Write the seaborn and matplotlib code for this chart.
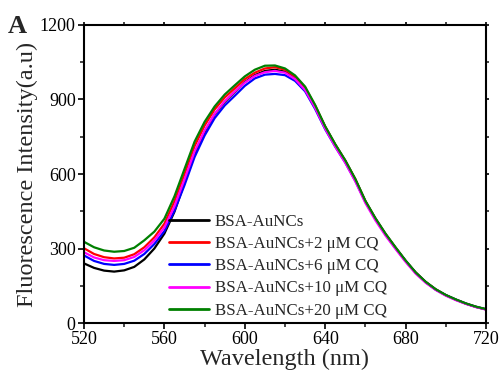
import matplotlib
matplotlib.use("Agg")
import matplotlib.pyplot as plt
import seaborn as sns
import pandas as pd
import numpy as np
from matplotlib.ticker import MultipleLocator

wavelength = list(range(520, 721, 5))

black = [240, 222, 211, 207, 212, 226, 256, 300, 360, 448, 565, 680, 770, 840, 890, 930, 970, 998, 1015, 1020,
         1012, 988, 945, 873, 790, 718, 653, 578, 490, 420, 358, 303, 250, 203, 165, 135, 112, 94, 78, 65, 55]
red = [301, 278, 265, 260, 263, 277, 305, 345, 400, 490, 600, 712, 795, 860, 908, 945, 982, 1008, 1025, 1030,
       1020, 992, 948, 875, 790, 718, 653, 578, 490, 420, 358, 303, 250, 203, 165, 135, 112, 94, 78, 65, 55]
blue = [272, 250, 238, 234, 238, 251, 278, 318, 370, 452, 555, 668, 755, 825, 876, 915, 955, 985, 1000, 1003,
        998, 975, 933, 862, 780, 710, 646, 572, 487, 418, 356, 301, 250, 202, 164, 134, 112, 94, 78, 65, 55]
magenta = [285, 264, 253, 250, 253, 266, 293, 332, 385, 470, 578, 690, 775, 842, 893, 932, 968, 995, 1010, 1015,
           1008, 982, 938, 866, 782, 710, 645, 570, 483, 413, 352, 298, 246, 199, 162, 133, 110, 92, 77, 64, 54]
green = [327, 305, 292, 287, 290, 303, 333, 368, 420, 510, 620, 730, 810, 872, 920, 957, 993, 1020, 1036, 1037,
         1025, 997, 952, 878, 792, 720, 655, 580, 492, 422, 360, 305, 252, 204, 166, 136, 113, 95, 79, 66, 56]

labels = ["BSA-AuNCs", "BSA-AuNCs+2 μM CQ", "BSA-AuNCs+6 μM CQ",
          "BSA-AuNCs+10 μM CQ", "BSA-AuNCs+20 μM CQ"]
colors = ["#000000", "#ff0000", "#0000ff", "#ff00ff", "#008000"]
series = [black, red, blue, magenta, green]

rows = []
for lab, vals in zip(labels, series):
    for w, v in zip(wavelength, vals):
        rows.append({"Wavelength": w, "Intensity": v, "Sample": lab})
df = pd.DataFrame(rows)

sns.set_style("ticks")
plt.rcParams['font.family'] = ['Liberation Serif', 'DejaVu Serif']

fig = plt.figure(figsize=(5.0, 3.73), dpi=100)
ax = fig.add_axes([0.168, 0.134, 0.804, 0.799])

sns.lineplot(data=df, x="Wavelength", y="Intensity", hue="Sample", hue_order=labels,
             palette=dict(zip(labels, colors)), linewidth=1.6, ax=ax, legend=True)

ax.set_xlim(520, 720)
ax.set_ylim(0, 1200)
ax.xaxis.set_major_locator(MultipleLocator(40))
ax.xaxis.set_minor_locator(MultipleLocator(20))
ax.yaxis.set_major_locator(MultipleLocator(300))
ax.yaxis.set_minor_locator(MultipleLocator(150))

for s in ax.spines.values():
    s.set_visible(True)
    s.set_linewidth(1.5)
    s.set_color("black")

ax.tick_params(axis='both', which='major', direction='out', length=4, width=1.2,
               labelsize=13, colors='black', pad=2)
ax.tick_params(axis='both', which='minor', direction='out', length=3, width=1.2)
ax.tick_params(top=True, right=True, which='both')
for t in ax.xaxis.get_ticklines(minor=False)[1::2] + ax.xaxis.get_ticklines(minor=True)[1::2]:
    t.set_markersize(2)
for t in ax.yaxis.get_ticklines(minor=False)[1::2] + ax.yaxis.get_ticklines(minor=True)[1::2]:
    t.set_markersize(2)

ax.set_xlabel("Wavelength (nm)", fontsize=17.5, labelpad=0)
ax.set_ylabel("Fluorescence Intensity(a.u)", fontsize=17.5, labelpad=1)

leg = ax.legend(loc='lower left', bbox_to_anchor=(0.212, 0.015), frameon=False,
                fontsize=12.2, handlelength=2.35, handletextpad=0.35, labelspacing=0.36,
                borderaxespad=0, borderpad=0)
for line in leg.get_lines():
    line.set_linewidth(2)

fig.text(0.016, 0.912, "A", fontsize=19, fontweight='bold', ha='left', va='baseline')

fig.savefig("out.png", dpi=100)
